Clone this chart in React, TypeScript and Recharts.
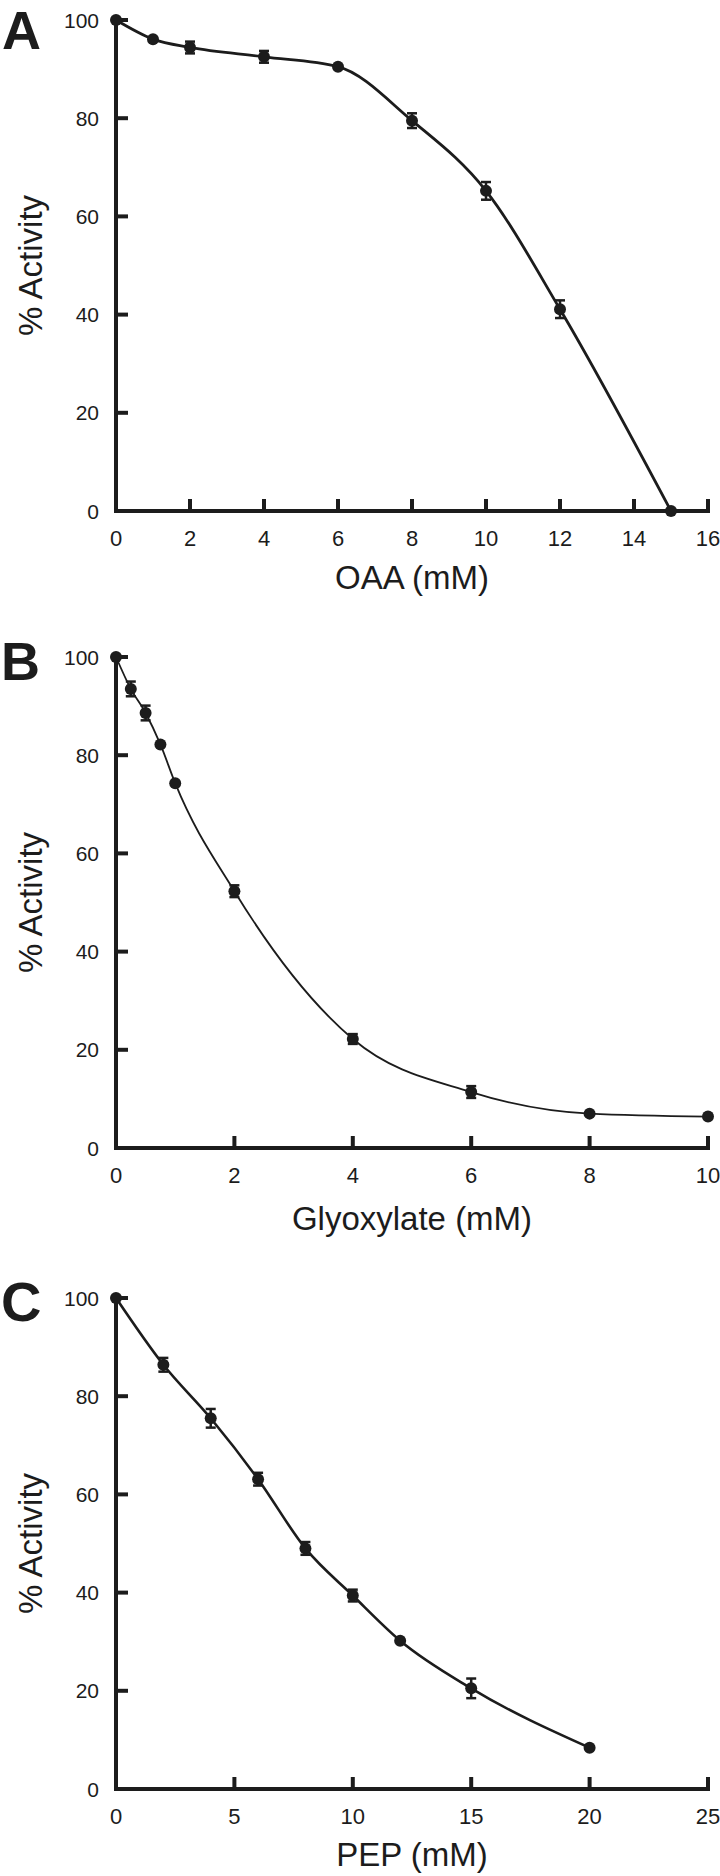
import React from 'react';
import { ComposedChart, Line, XAxis, YAxis, ErrorBar, Label } from 'recharts';

// ---- Data ----
const oaaConc = [0, 1, 2, 4, 6, 8, 10, 12, 15];
const oaaActivity = [100, 96.1, 94.4, 92.5, 90.5, 79.5, 65.2, 41.1, 0];
const oaaError = [0, 0, 1.2, 1.2, 0, 1.5, 1.8, 1.8, 0];
const oaaTicks = [0, 2, 4, 6, 8, 10, 12, 14, 16];

const glyConc = [0, 0.25, 0.5, 0.75, 1, 2, 4, 6, 8, 10];
const glyActivity = [100, 93.5, 88.6, 82.2, 74.3, 52.3, 22.2, 11.4, 7.0, 6.4];
const glyError = [0, 1.5, 1.5, 0, 0, 1.2, 1, 1.2, 0, 0];
const glyTicks = [0, 2, 4, 6, 8, 10];

const pepConc = [0, 2, 4, 6, 8, 10, 12, 15, 20];
const pepActivity = [100, 86.4, 75.5, 63.1, 49.0, 39.4, 30.2, 20.5, 8.4];
const pepError = [0, 1.4, 1.9, 1.3, 1.3, 1.2, 0, 2.0, 0];
const pepTicks = [0, 5, 10, 15, 20, 25];

const activityTicks = [0, 20, 40, 60, 80, 100];
const panelLetters = ['A', 'B', 'C'];

const INK = '#1c1c1c';
const FONT = '"Liberation Sans", Arial, Helvetica, sans-serif';

const build = (xs: number[], ys: number[], es: number[]) =>
  xs.map((x, i) => ({ x, y: ys[i], e: es[i] }));

const XTick = (props: any) => {
  const { x, y, payload } = props;
  return (
    <g>
      <line x1={x} y1={y} x2={x} y2={y - 12} stroke={INK} strokeWidth={4} />
      <text x={x} y={y + 35} textAnchor="middle" fontSize={22} fill={INK} fontFamily={FONT}>
        {payload.value}
      </text>
    </g>
  );
};

const YTick = (props: any) => {
  const { x, y, payload } = props;
  return (
    <g>
      <line x1={x} y1={y} x2={x + 12} y2={y} stroke={INK} strokeWidth={4} />
      <text x={x - 17} y={y} dy="0.36em" textAnchor="end" fontSize={21} fill={INK} fontFamily={FONT}>
        {payload.value}
      </text>
    </g>
  );
};

type PanelProps = {
  top: number;
  data: { x: number; y: number; e: number }[];
  xMax: number;
  xTicks: number[];
  xTitle: string;
  titleOffset: number;
  lineWidth: number;
};

const Panel = ({ top, data, xMax, xTicks, xTitle, titleOffset, lineWidth }: PanelProps) => (
  <div style={{ position: 'absolute', left: 0, top, width: 720, height: 601 }}>
    <ComposedChart width={720} height={601} data={data} margin={{ top: 20, right: 12, bottom: 0, left: 0 }}>
      <XAxis
        type="number"
        dataKey="x"
        domain={[0, xMax]}
        ticks={xTicks}
        interval={0}
        height={90}
        tickSize={0}
        tickMargin={0}
        tickLine={false}
        axisLine={{ stroke: INK, strokeWidth: 4, strokeLinecap: 'square' }}
        tick={(p: any) => <XTick {...p} />}
      >
        <Label
          content={(p: any) => {
            const vb = p.viewBox || { x: 116, y: 511, width: 592, height: 90 };
            return (
              <text
                x={vb.x + vb.width / 2}
                y={vb.y + titleOffset}
                textAnchor="middle"
                fontSize={33}
                fill={INK}
                fontFamily={FONT}
              >
                {xTitle}
              </text>
            );
          }}
        />
      </XAxis>
      <YAxis
        type="number"
        domain={[0, 100]}
        ticks={activityTicks}
        interval={0}
        width={116}
        tickSize={0}
        tickMargin={0}
        tickLine={false}
        axisLine={{ stroke: INK, strokeWidth: 4, strokeLinecap: 'square' }}
        tick={(p: any) => <YTick {...p} />}
      >
        <Label
          content={(p: any) => {
            const vb = p.viewBox || { x: 0, y: 20, width: 116, height: 491 };
            const cx = vb.x + 42;
            const cy = vb.y + vb.height / 2;
            return (
              <text
                x={cx}
                y={cy}
                transform={`rotate(-90 ${cx} ${cy})`}
                textAnchor="middle"
                fontSize={33}
                fill={INK}
                fontFamily={FONT}
              >
                % Activity
              </text>
            );
          }}
        />
      </YAxis>
      <Line
        type="monotone"
        dataKey="y"
        stroke={INK}
        strokeWidth={lineWidth}
        dot={{ r: 6, fill: INK, stroke: INK, strokeWidth: 0 }}
        activeDot={false}
        isAnimationActive={false}
      >
        <ErrorBar dataKey="e" width={5} stroke={INK} strokeWidth={2.5} direction="y" />
      </Line>
    </ComposedChart>
  </div>
);

export default function App() {
  return (
    <div style={{ position: 'absolute', left: 0, top: 0, width: 720, height: 1876, background: '#fff' }}>
      <svg
        width={720}
        height={1876}
        style={{ position: 'absolute', left: 0, top: 0, pointerEvents: 'none' }}
      >
        <text x={2} y={49} fontSize={54} fontWeight="bold" fill={INK} fontFamily={FONT}>
          {panelLetters[0]}
        </text>
        <text x={1} y={680} fontSize={54} fontWeight="bold" fill={INK} fontFamily={FONT}>
          {panelLetters[1]}
        </text>
        <text x={1} y={1321} fontSize={56} fontWeight="bold" fill={INK} fontFamily={FONT}>
          {panelLetters[2]}
        </text>
      </svg>
      <Panel
        top={0}
        data={build(oaaConc, oaaActivity, oaaError)}
        xMax={16}
        xTicks={oaaTicks}
        xTitle="OAA (mM)"
        titleOffset={78}
        lineWidth={2.8}
      />
      <Panel
        top={637}
        data={build(glyConc, glyActivity, glyError)}
        xMax={10}
        xTicks={glyTicks}
        xTitle="Glyoxylate (mM)"
        titleOffset={82}
        lineWidth={1.8}
      />
      <Panel
        top={1278}
        data={build(pepConc, pepActivity, pepError)}
        xMax={25}
        xTicks={pepTicks}
        xTitle="PEP (mM)"
        titleOffset={77}
        lineWidth={2.6}
      />
    </div>
  );
}
